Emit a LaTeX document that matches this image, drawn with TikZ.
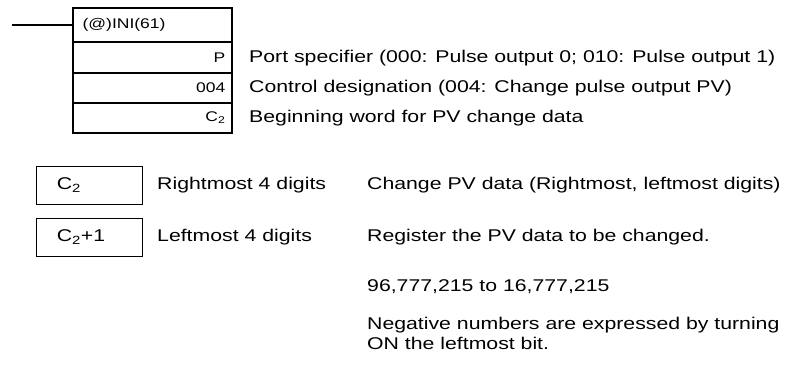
\documentclass[tikz,border=0pt]{standalone}
\usepackage{fontspec}
\setmainfont{Liberation Sans}[FakeStretch=1.25]
\usepackage{tikz}
\usetikzlibrary{positioning}

\newcommand\fnorm{\fontsize{17}{20}\selectfont}
\newcommand\fsmall{\fontsize{14}{16}\selectfont}

\begin{document}
\begin{tikzpicture}[x=1pt,y=-1pt,
  row/.style={draw,line width=1.2pt,minimum width=159pt,minimum height=30pt,inner sep=0pt},
  wrd/.style={draw,line width=0.8pt,minimum width=106pt,minimum height=38pt,inner sep=0pt},
  lab/.style={font=\fnorm,anchor=west,inner sep=0pt},
  sml/.style={font=\fsmall,inner sep=0pt}]
 \useasboundingbox (0,0) rectangle (786,367);
 % instruction block
 \node[row,minimum height=34pt] (hdr) at (152.5,25) {};
 \node[row,minimum height=31pt] (rp) at (152.5,57.5) {};
 \node[row] (rctl) at (152.5,88) {};
 \node[row] (rc) at (152.5,118) {};
 \node[sml,anchor=west] (iname) at ([xshift=10pt]hdr.west) {(@)INI(61)};
 \node[sml,anchor=east] (pname) at ([xshift=-7pt]rp.east) {P};
 \node[sml,anchor=east] (ctlname) at ([xshift=-7pt]rctl.east) {004};
 \node[sml,anchor=east] (cname) at ([xshift=-7pt]rc.east) {C\textsubscript{2}};
 \coordinate (rung) at (12,25);
 \draw[line width=1.2pt] (rung) -- (hdr.west);
 \node[lab] (pdesc) at (249,58) {Port specifier (000: Pulse output 0; 010: Pulse output 1)};
 \node[lab] (ctldesc) at (249,88) {Control designation (004: Change pulse output PV)};
 \node[lab] (cdesc) at (249,118) {Beginning word for PV change data};
 % data words
 \node[wrd] (w0) at (89,185) {};
 \node[wrd] (w1) at (89,237) {};
 \node[lab] (w0name) at ([xshift=21pt]w0.west) {C\textsubscript{2}};
 \node[lab] (w1name) at ([xshift=21pt]w1.west) {C\textsubscript{2}+1};
 \node[lab] (w0part) at (157,185) {Rightmost 4 digits};
 \node[lab] (w1part) at (157,237) {Leftmost 4 digits};
 \node[lab] (w0desc) at (367,185) {Change PV data (Rightmost, leftmost digits)};
 \node[lab] (w1desc) at (367,237) {Register the PV data to be changed.};
 \node[lab] (range) at (367,287) {96,777,215 to 16,777,215};
 \node[lab,align=left] (negnote) at (367,333) {Negative numbers are expressed by turning\\ON the leftmost bit.};
\end{tikzpicture}
\end{document}
